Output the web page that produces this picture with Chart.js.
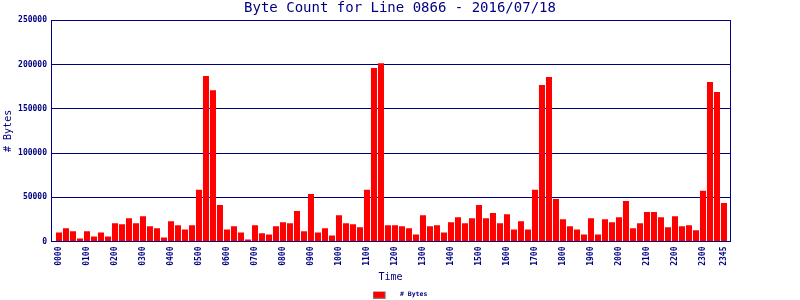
<!DOCTYPE html>
<html>
<head>
<meta charset="utf-8">
<script src="https://cdn.jsdelivr.net/npm/chart.js@4/dist/chart.umd.min.js"></script>
<style>
    body { margin: 0; background: #fff; }
    #wrap { width: 800px; height: 300px; }
</style>
</head>
<body>
<div id="wrap"><canvas id="byteChart" width="800" height="300"></canvas></div>
<script>
// 15 minute slots
const times = [
    '0000', '0015', '0030', '0045', '0100', '0115', '0130', '0145',
    '0200', '0215', '0230', '0245', '0300', '0315', '0330', '0345',
    '0400', '0415', '0430', '0445', '0500', '0515', '0530', '0545',
    '0600', '0615', '0630', '0645', '0700', '0715', '0730', '0745',
    '0800', '0815', '0830', '0845', '0900', '0915', '0930', '0945',
    '1000', '1015', '1030', '1045', '1100', '1115', '1130', '1145',
    '1200', '1215', '1230', '1245', '1300', '1315', '1330', '1345',
    '1400', '1415', '1430', '1445', '1500', '1515', '1530', '1545',
    '1600', '1615', '1630', '1645', '1700', '1715', '1730', '1745',
    '1800', '1815', '1830', '1845', '1900', '1915', '1930', '1945',
    '2000', '2015', '2030', '2045', '2100', '2115', '2130', '2145',
    '2200', '2215', '2230', '2245', '2300', '2315', '2330', '2345'
];

const byteCounts = [
    10300, 14900, 11500, 3400, 11500, 5700, 10300, 5700,
    20600, 19500, 26300, 20600, 28600, 17200, 14900, 4600,
    22900, 18300, 13700, 18300, 58400, 187000, 171000, 41200,
    13700, 17200, 10300, 2300, 18300, 9200, 8000, 17200,
    21800, 20600, 34400, 11500, 53800, 10300, 14900, 6900,
    29800, 20600, 19500, 16000, 58400, 196000, 201500, 18300,
    18300, 17200, 14900, 8000, 29800, 17200, 18300, 10300,
    21800, 27500, 20600, 26300, 41200, 26300, 32100, 20600,
    30900, 13700, 22900, 13700, 58400, 177000, 186000, 48100,
    25200, 17200, 13700, 8000, 26300, 8000, 25200, 21800,
    27500, 45800, 14900, 20600, 33200, 33200, 27500, 16000,
    28600, 17200, 18300, 12600, 57300, 180200, 168900, 43500
];

const tickLabels = [
    '0000', '0100', '0200', '0300', '0400', '0500', '0600', '0700',
    '0800', '0900', '1000', '1100', '1200', '1300', '1400', '1500',
    '1600', '1700', '1800', '1900', '2000', '2100', '2200', '2300', '2345'
];
const yTicks = [0, 50000, 100000, 150000, 200000, 250000];

const navy = '#000080';
const mono = 'DejaVu Sans Mono';

// legend swatch: grey framed red box
const swatch = document.createElement('canvas');
swatch.width = 24;
swatch.height = 8;
(function () {
    const g = swatch.getContext('2d');
    g.fillStyle = '#808080';
    g.fillRect(0, 0, 13, 8);
    g.fillStyle = '#ff0000';
    g.fillRect(1, 1, 11, 6);
})();

const points = byteCounts.map((v, i) => ({ x: i, y: v }));

new Chart(document.getElementById('byteChart'), {
    type: 'bar',
    data: {
        datasets: [{
            label: '# Bytes',
            data: points,
            backgroundColor: '#ff0000',
            borderWidth: 0,
            categoryPercentage: 1,
            barPercentage: 0.86
        }]
    },
    options: {
        responsive: false,
        animation: false,
        layout: { padding: { left: 0, right: 0, top: 0, bottom: -8 } },
        plugins: {
            tooltip: { enabled: false },
            title: {
                display: true,
                text: 'Byte Count for Line 0866 - 2016/07/18',
                color: navy,
                font: { family: mono, size: 14, weight: 'normal', lineHeight: 1.2 },
                padding: { top: 0, bottom: 3.5 }
            },
            legend: {
                position: 'bottom',
                labels: {
                    color: navy,
                    font: { family: mono, size: 6.5, weight: 'bold' },
                    usePointStyle: true,
                    pointStyle: swatch,
                    pointStyleWidth: 24,
                    padding: 0
                }
            }
        },
        scales: {
            x: {
                type: 'linear',
                offset: false,
                min: -1.14,
                max: 95.86,
                grid: { display: false, drawTicks: false },
                border: { color: navy, width: 1 },
                afterBuildTicks: function (scale) {
                    scale.ticks = tickLabels.map(t => ({ value: times.indexOf(t) }));
                },
                afterFit: function (scale) { scale.height = 50; },
                ticks: {
                    autoSkip: false,
                    minRotation: 90,
                    maxRotation: 90,
                    padding: 5,
                    color: navy,
                    font: { family: mono, size: 8, weight: 'bold' },
                    callback: function (value) { return times[value]; }
                },
                title: {
                    display: true,
                    text: 'Time',
                    color: navy,
                    font: { family: mono, size: 10, lineHeight: 1.2 },
                    padding: { top: 0, bottom: 8.5 }
                }
            },
            y: {
                min: 0,
                max: 250000,
                grid: { color: navy, lineWidth: 1, drawTicks: false },
                border: { color: navy, width: 1 },
                afterBuildTicks: function (scale) {
                    scale.ticks = yTicks.map(v => ({ value: v }));
                },
                afterFit: function (scale) { scale.width = 51; },
                ticks: {
                    padding: 4,
                    color: navy,
                    font: { family: mono, size: 8, weight: 'bold' },
                    callback: function (value) { return String(value); }
                },
                title: {
                    display: true,
                    text: '# Bytes',
                    color: navy,
                    font: { family: mono, size: 10, lineHeight: 1.2 },
                    padding: { top: 2, bottom: 0 }
                }
            },
            yRight: {
                position: 'right',
                min: 0,
                max: 1,
                grid: { display: false, drawTicks: false },
                border: { color: navy, width: 1 },
                ticks: { display: false },
                afterFit: function (scale) { scale.width = 70; }
            }
        }
    }
});
</script>
</body>
</html>
